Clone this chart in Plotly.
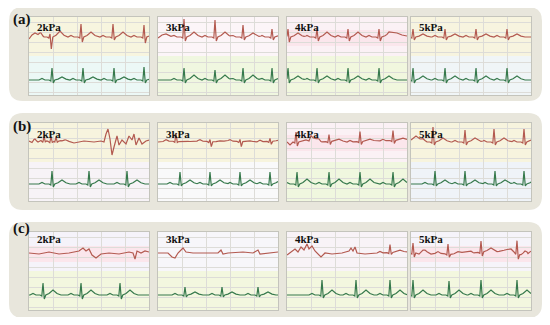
import numpy as np
import plotly.graph_objects as go

# browser body margin is 8px; figure sized so page fits 550x325 exactly
PAGE_OFF = 8
W, H = 550 - 2 * PAGE_OFF, 325 - 2 * PAGE_OFF

ROW_LABELS = ["(a)", "(b)", "(c)"]
PANEL_LABELS = ["2kPa", "3kPa", "4kPa", "5kPa"]

# ---- ECG data (panel px units: x 0..120, amplitude px relative to baseline) ----
RED_BEAT_X = [
    [21, 52, 84, 115], [26, 57, 85, 114], [1, 30, 61, 92], [2, 34, 65, 96],
    [15, 22, 27], [18, 52, 82, 112], [9, 42, 73, 106], [22, 54, 83, 113],
    [], [], [103], [2, 37, 70, 106]]
RED_R = [
    [3, 13, 13, 12], [18, 17, 12, 8], [8, 8, 8, 8], [8, 8, 8, 8],
    [5, 5, 4], [8, 2, 2, 3], [10, 7, 10, 10], [15, 12, 13, 13],
    [], [], [8], [10, 10, 11, 13]]
RED_S = [
    [12, 5, 3, 6], [4, 4, 3, 3], [5, 4, 4, 4], [3, 3, 3, 3],
    [1, 1, 1], [1, 5, 5, 3], [4, 3, 3, 3], [3, 3, 3, 3],
    [], [], [2], [4, 3, 4, 5]]
RED_T = [
    [6, 5, 5, 4], [5, 5, 4, 4], [4, 5, 5, 4], [3, 3, 3, 3],
    [1, 1, 1], [1, 1, 1, 1], [2, 2, 2, 2], [4, 4, 4, 4],
    [], [], [2], [3, 3, 3, 3]]
RED_WANDER = [
    [(0, -2), (3, 2), (6, 4), (9, 2), (12, 3), (15, 0)],
    [(0, -1), (4, 2), (8, 3), (12, 1), (16, 0)],
    [(100, 0), (105, 3), (110, 4), (115, 2), (120, 1)],
    [],
    [(0, 1), (3, -1), (6, 2), (9, 0), (33, 0), (36, 1), (45, -1), (55, 1), (65, 0), (72, 1), (75, 0),
     (77, 8), (79, 13), (81, 3), (83, -13), (85, -5), (88, 6), (90, -3), (93, 2), (97, -2), (100, 6),
     (103, 2), (105, 8), (107, -3), (110, 4), (113, -2), (117, 1), (120, 2)],
    [(0, 0), (10, 1), (30, 0), (40, 1), (60, 0), (70, 1), (95, 0), (120, 1)],
    [(0, -1), (3, -3), (6, 0), (22, 0), (24, 6), (26, 4), (30, 3), (34, 0), (50, 1), (60, 0), (90, 1), (120, 2)],
    [(0, 2), (5, 6), (9, 3), (14, 1), (16, 0)],
    [(0, 0), (10, -1), (20, 1), (30, -1), (40, 0), (50, 2), (54, 5), (57, 2), (60, 4), (63, -2), (67, -5),
     (72, -1), (80, 0), (90, -1), (100, 1), (104, 0), (106, -6), (108, 2), (112, 0), (116, 2), (120, 1)],
    [(0, 0), (10, 0), (14, -4), (17, -5), (20, 0), (23, 3), (25, 5), (28, 1), (35, 0), (50, 0), (60, 0),
     (63, 3), (65, -1), (70, 0), (85, 1), (95, 0), (100, 3), (102, -1), (110, 0), (120, 1)],
    [(0, -2), (5, 2), (8, 4), (11, 1), (14, 6), (17, 3), (20, 9), (22, 4), (25, 7), (28, 2), (31, -1),
     (34, -4), (38, 0), (45, -1), (55, 0), (62, 2), (64, 5), (66, 2), (68, 6), (70, 0), (78, -1), (90, 0),
     (120, 1)],
    [(8, -2), (14, 1), (20, -1), (26, 0), (46, -2), (52, 0), (56, 1), (62, 0), (80, 2), (86, 1), (92, 3),
     (96, 2), (100, 4), (104, 0), (110, -2), (114, 0), (117, -3), (120, 1)]]

GREEN_BEAT_X = [
    [23, 54, 85, 115], [26, 57, 85, 114], [1, 30, 61, 92], [2, 34, 65, 96],
    [23, 60, 98], [22, 52, 82, 112], [10, 42, 73, 106], [24, 54, 84, 113],
    [14, 52, 91], [27, 64, 100], [35, 69, 103], [2, 38, 70, 106]]
GREEN_R = [
    [12, 12, 12, 13], [12, 10, 12, 12], [12, 12, 12, 12], [12, 12, 12, 12],
    [13, 13, 13], [12, 12, 12, 12], [12, 12, 12, 12], [13, 13, 13, 13],
    [12, 12, 12], [8, 8, 8], [15, 15, 15], [15, 14, 15, 15]]
GREEN_S = [3, 3, 3, 3, 3, 2, 3, 2, 4, 2, 3, 3]
GREEN_T = [3, 5, 4, 4, 4, 4, 5, 4, 5, 3, 5, 5]

# panel background colours (top section, bottom section, band around red trace or None)
BG_TOP = ["#f7f5df", "#fcf5f8", "#fbf1f5", "#f7f4df",
          "#f7f4de", "#f7f4de", "#fbf1f5", "#f7f4de",
          "#f5f3fa", "#f7f6fa", "#f8f3f7", "#f6f4fa"]
BG_BOT = ["#ecf8f6", "#f0f7e0", "#f1f7de", "#f0f5f7",
          "#f7f3f7", "#f9f9fa", "#f0f7df", "#eff3f8",
          "#f3f7df", "#f3f7df", "#f3f7df", "#f3f7df"]
BAND = [None, None, "#fbe6ec", None,
        None, None, "#fbe6ec", None,
        "#fbe6ec", None, None, "#fbe6ec"]

RED_COLOR = "#b35a50"
GREEN_COLOR = "#36794c"

# ---- layout constants (page pixels) ----
PANEL_X = [29, 158, 287, 411]
PANEL_W = 120
ROW_TOP = [17, 123, 232]
PANEL_H = 78
BOX_Y = [(7, 101), (113, 210), (222, 318)]
BOX_X = (9, 542)
RED_BASE = [58, 59, 57]
GREEN_BASE = [15, 17, 15]
LABEL_Y = [68, 67, 71]
ROW_LABEL_Y = [19, 126, 228]


def beat_poly(x0, P, R, S, T):
    dx = [-13, -10, -7, -3, -1.2, 0, 1.3, 2.8, 6, 10, 14, 18]
    dy = [0, P, 0, 0, -1, R, -S, 0, 0.3 * T, T, 0.3 * T, 0]
    return [x0 + d for d in dx], dy


def build(beats, wander, base):
    polys = []
    for (x0, R, S, T) in beats:
        polys.append(beat_poly(x0, 1.5, R, S, T))
    if wander:
        polys.append(([p[0] for p in wander], [p[1] for p in wander]))
    xs = {0.0, 120.0}
    for px, _ in polys:
        xs.update(x for x in px if 0 <= x <= 120)
    xs = np.array(sorted(xs))
    ys = np.full(len(xs), float(base))
    for px, py in polys:
        ys += np.interp(xs, px, py, left=0, right=0)
    return xs, ys


def X(px):
    return (px - PAGE_OFF) / W


def Y(py):
    return 1 - (py - PAGE_OFF) / H


def rrect(x0, y0, x1, y1, r):
    return (f"M {X(x0 + r)},{Y(y0)} L {X(x1 - r)},{Y(y0)} Q {X(x1)},{Y(y0)} {X(x1)},{Y(y0 + r)} "
            f"L {X(x1)},{Y(y1 - r)} Q {X(x1)},{Y(y1)} {X(x1 - r)},{Y(y1)} "
            f"L {X(x0 + r)},{Y(y1)} Q {X(x0)},{Y(y1)} {X(x0)},{Y(y1 - r)} "
            f"L {X(x0)},{Y(y0 + r)} Q {X(x0)},{Y(y0)} {X(x0 + r)},{Y(y0)} Z")


fig = go.Figure()
shapes = []
annotations = []

for r in range(3):
    shapes.append(dict(type="path", xref="paper", yref="paper", layer="below",
                       path=rrect(BOX_X[0], BOX_Y[r][0], BOX_X[1], BOX_Y[r][1], 14),
                       fillcolor="#e8e6dc", line=dict(width=0)))
    annotations.append(dict(xref="paper", yref="paper", x=X(11), y=Y(ROW_LABEL_Y[r]),
                            xanchor="left", yanchor="middle", showarrow=False,
                            text=f"<b>{ROW_LABELS[r]}</b>",
                            font=dict(family="Liberation Serif, Times New Roman, serif", size=15, color="#111")))

for r in range(3):
    for c in range(4):
        i = r * 4 + c
        k = i + 1
        sx = "" if k == 1 else str(k)
        xa, ya = "x" + sx, "y" + sx
        fig.update_layout(**{
            "xaxis" + sx: dict(domain=[X(PANEL_X[c]), X(PANEL_X[c] + PANEL_W)], range=[0, 120],
                               anchor=ya, showticklabels=False, ticks="", showgrid=True,
                               gridcolor="#dddcd8", gridwidth=1, tick0=0, dtick=24, zeroline=False,
                               showline=True, mirror=True, linecolor="#c4c4bc", linewidth=1),
            "yaxis" + sx: dict(domain=[Y(ROW_TOP[r] + PANEL_H), Y(ROW_TOP[r])], range=[0, 78],
                               anchor=xa, showticklabels=False, ticks="", showgrid=True,
                               gridcolor="#dddcd8", gridwidth=1, tick0=3, dtick=10, zeroline=False,
                               showline=True, mirror=True, linecolor="#c4c4bc", linewidth=1),
        })
        shapes.append(dict(type="rect", xref=xa, yref=ya, x0=0, x1=120, y0=39, y1=78,
                           fillcolor=BG_TOP[i], line=dict(width=0), layer="below"))
        shapes.append(dict(type="rect", xref=xa, yref=ya, x0=0, x1=120, y0=0, y1=39,
                           fillcolor=BG_BOT[i], line=dict(width=0), layer="below"))
        if BAND[i]:
            shapes.append(dict(type="rect", xref=xa, yref=ya, x0=0, x1=120,
                               y0=RED_BASE[r] - 9, y1=RED_BASE[r] + 7,
                               fillcolor=BAND[i], line=dict(width=0), layer="below"))

        rb = list(zip(RED_BEAT_X[i], RED_R[i], RED_S[i], RED_T[i]))
        xr, yr = build(rb, RED_WANDER[i], RED_BASE[r])
        fig.add_trace(go.Scatter(x=xr, y=yr, mode="lines", xaxis=xa, yaxis=ya,
                                 line=dict(color=RED_COLOR, width=1.2), hoverinfo="skip", showlegend=False))
        gb = [(x0, R, GREEN_S[i], GREEN_T[i]) for x0, R in zip(GREEN_BEAT_X[i], GREEN_R[i])]
        xg, yg = build(gb, [], GREEN_BASE[r])
        fig.add_trace(go.Scatter(x=xg, y=yg, mode="lines", xaxis=xa, yaxis=ya,
                                 line=dict(color=GREEN_COLOR, width=1.2), hoverinfo="skip", showlegend=False))

        annotations.append(dict(xref=xa, yref=ya, x=6, y=LABEL_Y[r], xanchor="left", yanchor="middle",
                                showarrow=False, text=f"<b>{PANEL_LABELS[c]}</b>",
                                font=dict(family="Liberation Serif, Times New Roman, serif", size=11,
                                          color="#111")))

fig.update_layout(width=W, height=H, margin=dict(l=0, r=0, t=0, b=0),
                  paper_bgcolor="white", plot_bgcolor="white",
                  shapes=shapes, annotations=annotations, showlegend=False)

fig.write_html("out.html")
